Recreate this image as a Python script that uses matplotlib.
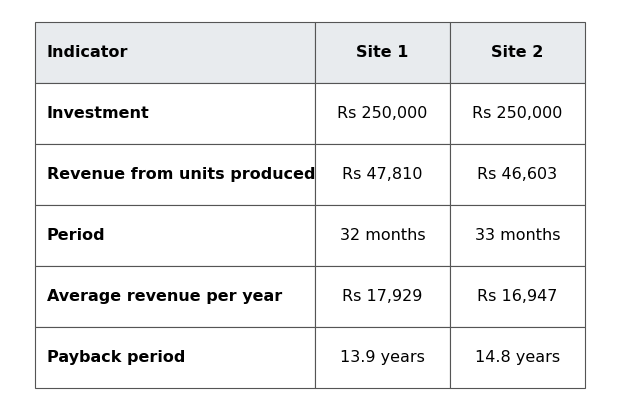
import matplotlib.pyplot as plt

header = ["Indicator", "Site 1", "Site 2"]
indicators = ["Investment", "Revenue from units produced", "Period",
              "Average revenue per year", "Payback period"]
site1 = ["Rs 250,000", "Rs 47,810", "32 months", "Rs 17,929", "13.9 years"]
site2 = ["Rs 250,000", "Rs 46,603", "33 months", "Rs 16,947", "14.8 years"]

fig = plt.figure(figsize=(6.2, 4.12), dpi=100)
ax = fig.add_axes([0, 0, 1, 1])
ax.axis("off")

rows = [[a, b, c] for a, b, c in zip(indicators, site1, site2)]
W, H = 620, 412
left, right, top, bottom = 35, 585, 22, 388
tbl = ax.table(cellText=rows, colLabels=header, cellLoc="center", colLoc="center",
               bbox=[left / W, 1 - bottom / H, (right - left) / W, (bottom - top) / H])
tbl.auto_set_font_size(False)
col_w = [280, 135, 135]
for (r, c), cell in tbl.get_celld().items():
    cell.set_width(col_w[c] / W)
    cell.set_edgecolor("#555555")
    cell.set_linewidth(0.8)
    txt = cell.get_text()
    txt.set_fontsize(11.5)
    txt.set_color("black")
    if r == 0:
        cell.set_facecolor("#e8ebee")
        txt.set_fontweight("bold")
    if c == 0:
        txt.set_fontweight("bold")
        txt.set_ha("left")
        cell._loc = "left"
        cell.PAD = 12 / col_w[0]

fig.savefig("out.png", dpi=100)
